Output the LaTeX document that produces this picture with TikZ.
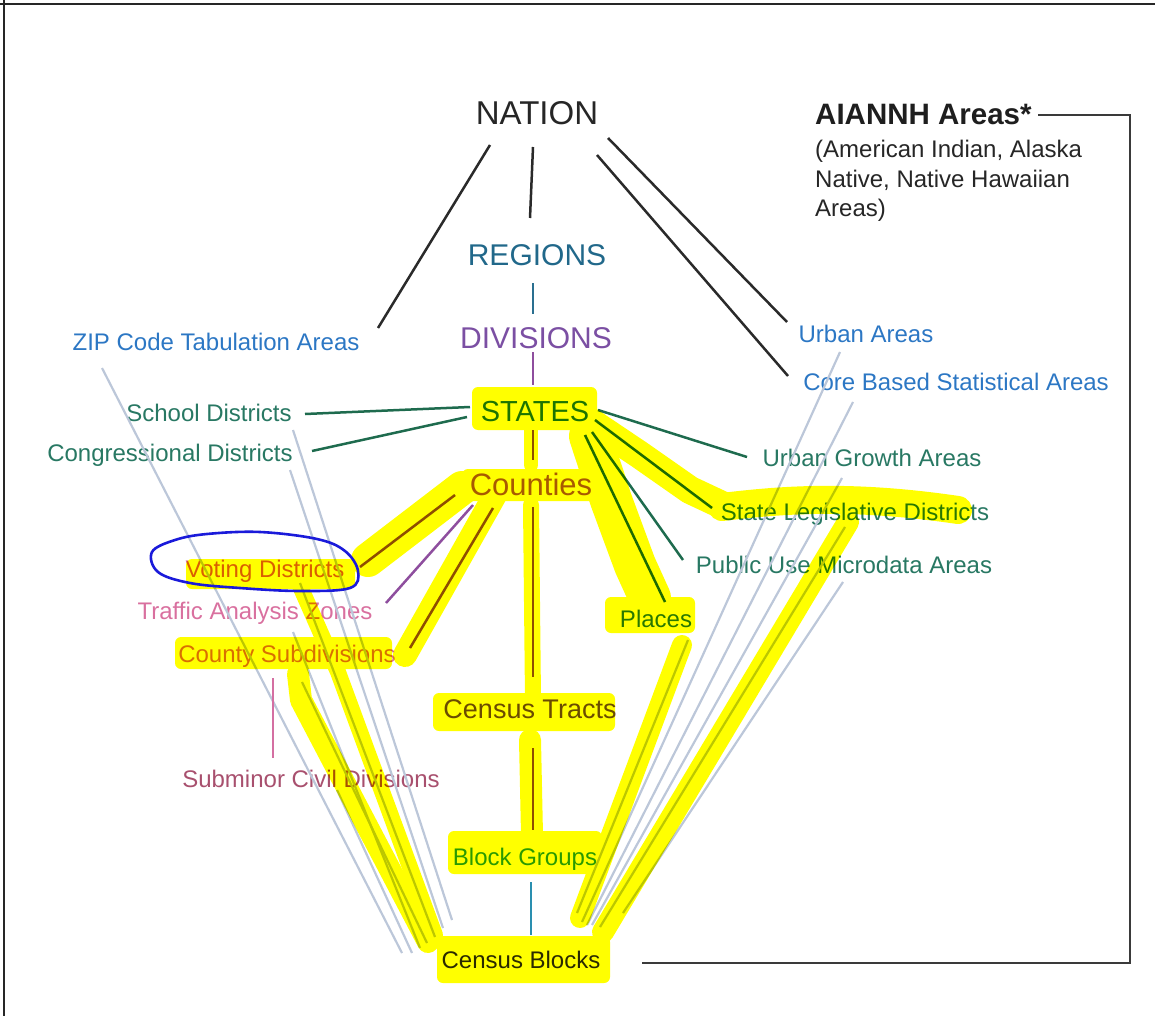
\documentclass[tikz,border=0pt]{standalone}
\usepackage{fontspec}
\setmainfont{Liberation Sans}
\definecolor{natc}{HTML}{262626}
\definecolor{regc}{HTML}{21688A}
\definecolor{divc}{HTML}{7B4FA3}
\definecolor{statec}{HTML}{1D7462}
\definecolor{cntyc}{HTML}{A85A30}
\definecolor{bluec}{HTML}{2C77C4}
\definecolor{grnc}{HTML}{287863}
\definecolor{votc}{HTML}{DA5F90}
\definecolor{pinkc}{HTML}{D9709F}
\definecolor{subc}{HTML}{A8506E}
\definecolor{tractc}{HTML}{6B4C9E}
\definecolor{bgc}{HTML}{2A9AB4}
\definecolor{blockc}{HTML}{2A2A2A}
\definecolor{aianc}{HTML}{1E1E1E}
\definecolor{grayln}{HTML}{BCC7D9}
\definecolor{blackln}{HTML}{2A2A2A}
\definecolor{greenln}{HTML}{1E6B4E}
\definecolor{purln}{HTML}{8E4E9E}
\definecolor{tealln}{HTML}{2A6F90}
\definecolor{tealln2}{HTML}{2A8FB0}
\definecolor{pinkln}{HTML}{D46FA2}
\definecolor{brackc}{HTML}{3A3A3A}
\definecolor{inkblue}{HTML}{1A1ADA}
\definecolor{hlc}{HTML}{FFFF00}
\begin{document}
\begin{tikzpicture}[x=1pt,y=-1pt,
  lbl/.style={inner sep=0pt,anchor=base,font=\fontsize{24}{29}\selectfont},
  big/.style={inner sep=0pt,anchor=base},
  blk/.style={draw=blackln,line width=2.5pt},
  grn/.style={draw=greenln,line width=2.5pt},
  pur/.style={draw=purln,line width=2.5pt},
  tln/.style={draw=tealln,line width=2.5pt},
  tln2/.style={draw=tealln2,line width=2.5pt},
  pln/.style={draw=pinkln,line width=2.5pt},
  gb/.style={draw=grayln,line width=2.2pt},
  brk/.style={draw=brackc,line width=2pt},
  hlline/.style={draw=hlc,line cap=round,line join=round},
  hlbox/.style={fill=hlc,rounded corners=6pt},
  ink/.style={draw=inkblue,line width=2.6pt}]
\useasboundingbox (0,0) rectangle (1155,1016);
% frame edges
\draw[draw=natc,line width=2.5pt] (0,4) -- (1155,4);
\draw[draw=natc,line width=2.5pt] (4,0) -- (4,1016);

% ---------- nodes ----------
\node[big,font=\fontsize{33}{36}\selectfont,text=natc] (nation) at (537,125) {NATION};
\node[big,font=\fontsize{30}{34}\selectfont,text=regc] (regions) at (537,265) {REGIONS};
\node[big,font=\fontsize{30}{34}\selectfont,text=divc] (divisions) at (536,348) {DIVISIONS};
\node[big,font=\fontsize{29}{33}\selectfont,text=statec] (states) at (535,421) {STATES};
\node[big,font=\fontsize{31}{34}\selectfont,text=cntyc] (counties) at (531,495) {Counties};
\node[lbl,text=bluec] (zip) at (216,350) {ZIP Code Tabulation Areas};
\node[lbl,text=grnc] (school) at (209,421) {School Districts};
\node[lbl,text=grnc] (congress) at (170,461) {Congressional Districts};
\node[lbl,text=votc] (voting) at (265,577) {Voting Districts};
\node[lbl,text=pinkc] (traffic) at (255,619) {Traffic Analysis Zones};
\node[lbl,text=pinkc] (countysub) at (287,662) {County Subdivisions};
\node[lbl,text=subc] (subminor) at (311,787) {Subminor Civil Divisions};
\node[big,font=\fontsize{27}{30}\selectfont,text=tractc] (tracts) at (530,718) {Census Tracts};
\node[lbl,text=bgc] (bgroups) at (525,865) {Block Groups};
\node[lbl,text=blockc] (blocks) at (521,968) {Census Blocks};
\node[lbl,text=bluec] (urban) at (866,342) {Urban Areas};
\node[lbl,text=bluec] (cbsa) at (956,390) {Core Based Statistical Areas};
\node[inner sep=0pt,anchor=base west,font=\fontsize{29.5}{33}\selectfont\bfseries,text=aianc] (aiannh) at (815,125) {AIANNH Areas*};
\node[lbl,anchor=base west,text=natc] (aian1) at (815,158) {(American Indian, Alaska};
\node[lbl,anchor=base west,text=natc] (aian2) at (815,188) {Native, Native Hawaiian};
\node[lbl,anchor=base west,text=natc] (aian3) at (815,217) {Areas)};
\node[lbl,text=grnc] (ugrowth) at (872,466) {Urban Growth Areas};
\node[lbl,text=grnc] (sld) at (855,520) {State Legislative Districts};
\node[lbl,text=grnc] (puma) at (844,573) {Public Use Microdata Areas};
\node[lbl,text=grnc] (places) at (656,627) {Places};

% ---------- gray-blue lines to Census Blocks ----------
\draw[gb] ([shift={(-114,18)}]zip.base) -- ([shift={(-119,-15)}]blocks.base);
\draw[gb] ([shift={(84,9)}]school.base) -- ([shift={(-69,-48)}]blocks.base);
\draw[gb] ([shift={(120,9)}]congress.base) -- ([shift={(-78,-40)}]blocks.base);
\draw[gb] ([shift={(35,6)}]voting.base) -- ([shift={(-86,-31)}]blocks.base);
\draw[gb] ([shift={(38,13)}]traffic.base) -- ([shift={(-101,-20)}]blocks.base);
\draw[gb] ([shift={(15,20)}]countysub.base) -- ([shift={(-94,-25)}]blocks.base);
\draw[gb] ([shift={(26,3)}]subminor.base) -- ([shift={(-109,-15)}]blocks.base);
\draw[gb] ([shift={(-26,10)}]urban.base) -- ([shift={(61,-46)}]blocks.base);
\draw[gb] ([shift={(-103,12)}]cbsa.base) -- ([shift={(66,-43)}]blocks.base);
\draw[gb] ([shift={(-30,12)}]ugrowth.base) -- ([shift={(71,-43)}]blocks.base);
\draw[gb] ([shift={(-10,7)}]sld.base) -- ([shift={(79,-41)}]blocks.base);
\draw[gb] ([shift={(-1,9)}]puma.base) -- ([shift={(102,-55)}]blocks.base);
\draw[gb] ([shift={(32,13)}]places.base) -- ([shift={(56,-55)}]blocks.base);

% ---------- hierarchy connectors ----------
\draw[blk] ([shift={(-47,20)}]nation.base) -- ([shift={(162,-22)}]zip.base);
\draw[blk] ([shift={(-4,22)}]nation.base) -- ([shift={(-7,-47)}]regions.base);
\draw[blk] ([shift={(71,13)}]nation.base) -- ([shift={(-79,-20)}]urban.base);
\draw[blk] ([shift={(60,30)}]nation.base) -- ([shift={(-168,-14)}]cbsa.base);
\draw[tln] ([shift={(-4,18)}]regions.base) -- ([shift={(-3,-34)}]divisions.base);
\draw[pur] ([shift={(-3,4)}]divisions.base) -- ([shift={(-2,-36)}]states.base);
\draw[grn] ([shift={(-65,-14)}]states.base) -- ([shift={(96,-7)}]school.base);
\draw[grn] ([shift={(-68,-4)}]states.base) -- ([shift={(142,-10)}]congress.base);
\draw[grn] ([shift={(63,-11)}]states.base) -- ([shift={(-125,-9)}]ugrowth.base);
\draw[grn] ([shift={(60,-1)}]states.base) -- ([shift={(-143,-12)}]sld.base);
\draw[grn] ([shift={(57,11)}]states.base) -- ([shift={(-161,-13)}]puma.base);
\draw[grn] ([shift={(50,14)}]states.base) -- ([shift={(9,-25)}]places.base);
\draw[pur] ([shift={(-2,9)}]states.base) -- ([shift={(2,-35)}]counties.base);
\draw[pur] ([shift={(-76,0)}]counties.base) -- ([shift={(95,-10)}]voting.base);
\draw[pur] ([shift={(-58,10)}]counties.base) -- ([shift={(131,-16)}]traffic.base);
\draw[pur] ([shift={(-38,13)}]counties.base) -- ([shift={(123,-14)}]countysub.base);
\draw[pur] ([shift={(2,12)}]counties.base) -- ([shift={(3,-41)}]tracts.base);
\draw[pur] ([shift={(3,30)}]tracts.base) -- ([shift={(8,-35)}]bgroups.base);
\draw[tln2] ([shift={(6,17)}]bgroups.base) -- ([shift={(10,-33)}]blocks.base);
\draw[pln] ([shift={(-14,16)}]countysub.base) -- ([shift={(-38,-29)}]subminor.base);
\draw[brk] ([shift={(223,-10)}]aiannh.base west) -- ++(92,0) |- ([shift={(121,-5)}]blocks.base);

% ---------- yellow highlighter ----------
\begin{scope}[blend mode=multiply]
\fill[hlbox] (472,387) rectangle (597,430);
\draw[hlline,line width=28pt] (585,418) -- (640,455) -- (690,490) -- (722,505);
\draw[hlline,line width=28pt] (722,507) .. controls (780,500) and (850,494) .. (958,510);
\draw[hlline,line width=22pt] (848,522) -- (603,932);
\draw[hlline,line width=42pt] (590,436) -- (611,500) -- (635,565) -- (650,598);
\fill[hlbox] (605,597) rectangle (695,633);
\draw[hlline,line width=20pt] (682,645) -- (580,918);
\draw[hlline,line width=14pt] (531,428) -- (531,465);
\fill[hlbox] (462,469) rectangle (600,501);
\draw[hlline,line width=34pt] (462,488) -- (368,560);
\fill[hlbox] (186,559) rectangle (355,589);
\draw[hlline,line width=24pt] (495,495) -- (405,655);
\fill[hlbox] (175,637) rectangle (392,669);
\draw[hlline,line width=16pt] (531,505) -- (533,700);
\fill[hlbox] (433,693) rectangle (615,731);
\draw[hlline,line width=22pt] (530,740) -- (532,835);
\fill[hlbox] (448,831) rectangle (602,874);
\fill[hlbox] (437,936) rectangle (610,983);
\draw[hlline,line width=16pt] (300,586) -- (338,672) -- (435,935);
\draw[hlline,line width=22pt] (298,674) -- (301,700) -- (428,942);
\end{scope}

% ---------- hand-drawn ring ----------
\draw[ink] plot[smooth cycle,tension=0.6] coordinates {(152,552) (175,540) (207,534) (260,532) (317,539) (345,551) (358,571) (350,588) (300,591) (240,588) (190,583) (158,572)};
\end{tikzpicture}
\end{document}
